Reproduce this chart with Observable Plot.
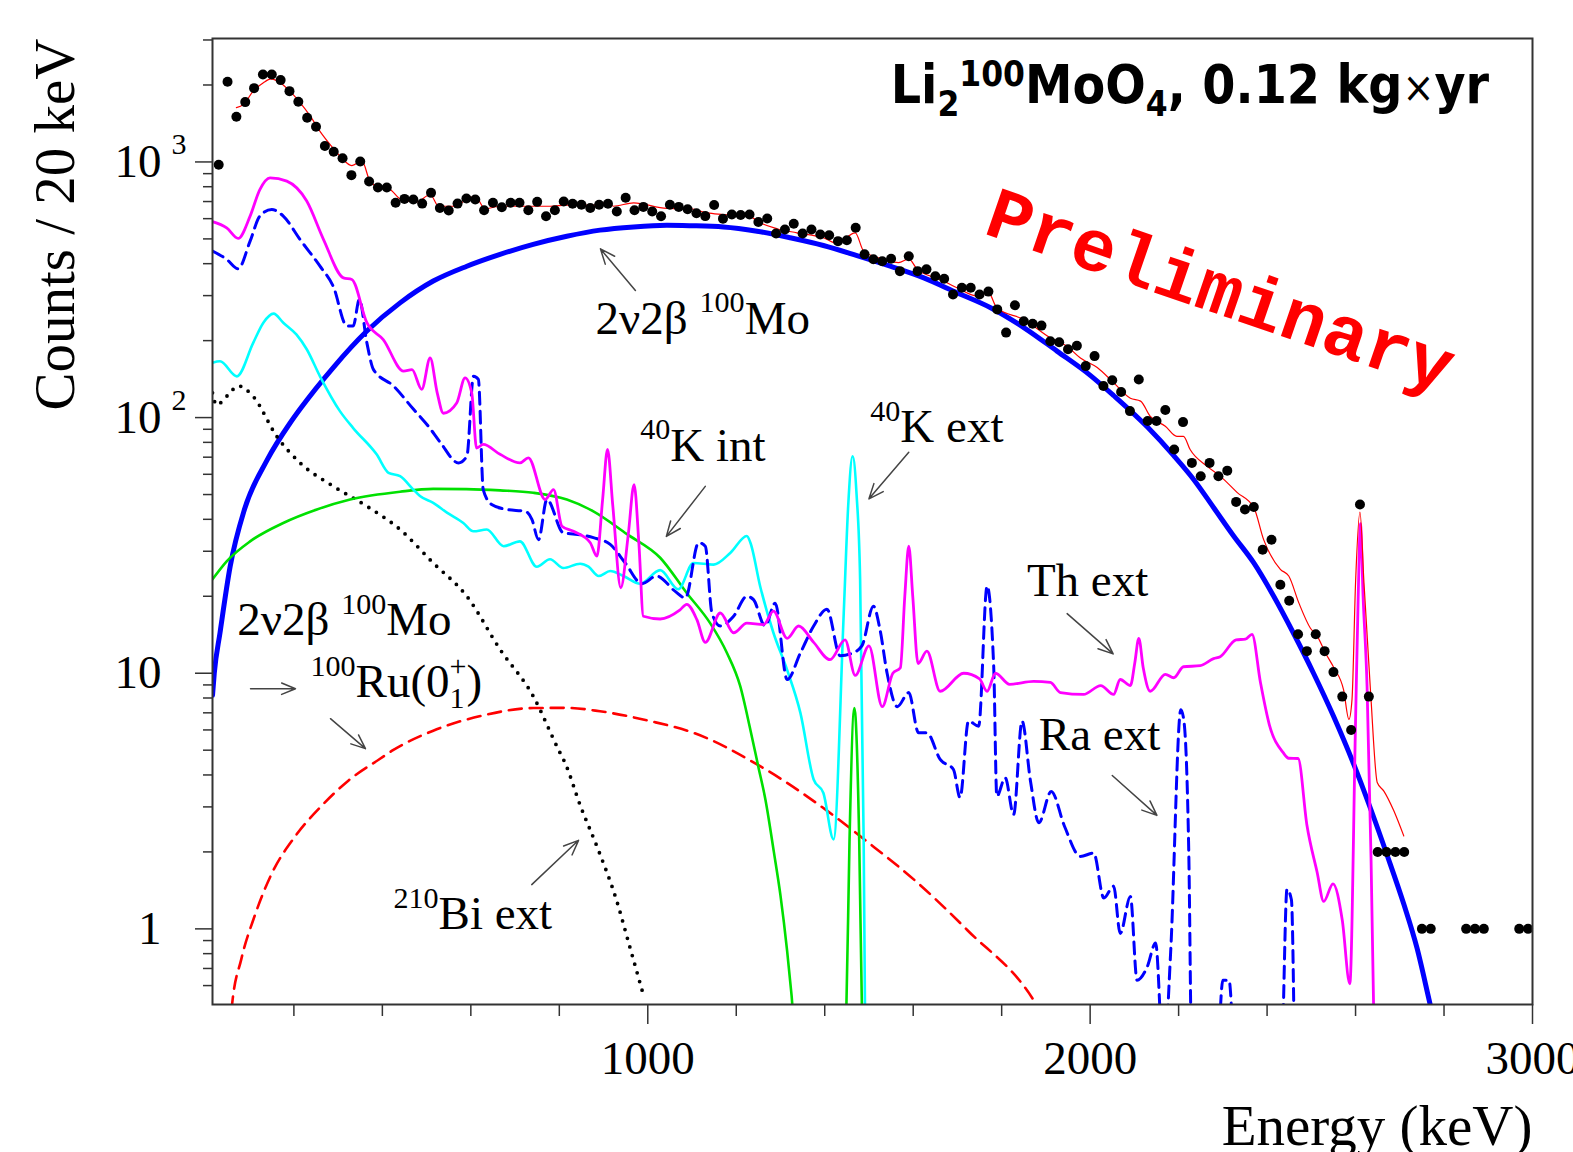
<!DOCTYPE html>
<html>
<head>
<meta charset="utf-8">
<script src="https://cdn.jsdelivr.net/npm/d3@7"></script>
<script src="https://cdn.jsdelivr.net/npm/@observablehq/plot@0.6"></script>
<style>
html, body { margin: 0; padding: 0; background: #fff; overflow: hidden; }
</style>
</head>
<body>
<script>
// ---------------- DATA (energy keV, counts / 20 keV) ----------------
const dataPoints = [
[30,975],[50,2060],[70,1502],[90,1714],[110,1944],[130,2198],[150,2198],[170,2090],[190,1892],[210,1720],
[230,1489],[250,1374],[270,1154],[290,1097],[310,1033],[330,888],[350,1004],[370,839],[390,795],[410,795],
[430,692],[450,717],[470,713],[490,687],[510,757],[530,660],[550,646],[570,687],[590,720],[610,713],
[630,647],[650,692],[670,665],[690,692],[710,692],[730,647],[750,698],[770,613],[790,647],[810,700],
[830,686],[850,680],[870,660],[890,680],[910,686],[930,640],[950,724],[970,647],[990,667],[1010,640],
[1030,613],[1050,680],[1070,667],[1090,653],[1110,630],[1130,614],[1150,678],[1170,600],[1190,623],[1210,620],
[1230,623],[1250,582],[1270,601],[1290,525],[1310,544],[1330,573],[1350,525],[1370,544],[1390,520],[1410,517],
[1430,490],[1450,494],[1470,553],[1490,435],[1510,416],[1530,409],[1550,418],[1570,374],[1590,428],[1610,374],
[1630,380],[1650,357],[1670,349],[1690,303],[1710,322],[1730,322],[1750,303],[1770,311],[1790,265],[1810,215],
[1830,275],[1850,238],[1870,233],[1890,229],[1910,199],[1930,197],[1950,185],[1970,191],[1990,159],[2010,174],
[2030,133],[2050,140],[2070,126],[2090,106],[2110,141],[2130,97],[2150,97],[2170,107],[2190,75],[2210,96],
[2230,66.5],[2250,59],[2270,66.5],[2290,59],[2310,62],[2330,46.8],[2350,43.7],[2370,44.7],[2390,30.4],[2410,33.3],
[2430,22.2],[2450,19.2],[2470,14.2],[2490,12.2],[2510,14.2],[2530,12.2],[2550,10.1],[2570,8.1],[2590,6.0],[2610,45.7],
[2630,8.1],[2650,2],[2670,2],[2690,2],[2710,2],[2750,1],[2770,1],[2850,1],[2870,1],[2890,1],[2970,1],[2990,1]
];

const totalFit = [
[70,1630],[86,1679],[108,1892],[131,2042],[148,2113],[169,2042],[191,1892],[214,1705],[237,1511],[259,1318],
[282,1169],[304,1054],[331,968],[354,1007],[372,841],[395,792],[417,780],[440,718],[478,697],[508,746],
[527,671],[561,671],[591,713],[610,735],[632,656],[666,671],[741,671],[779,671],[817,678],[892,678],
[909,703],[922,671],[968,692],[1043,658],[1096,656],[1134,632],[1171,623],[1232,610],[1254,578],[1292,548],
[1337,528],[1397,505],[1428,480],[1469,528],[1488,448],[1533,416],[1567,404],[1590,418],[1609,380],[1661,347],
[1699,322],[1744,299],[1770,308],[1789,269],[1850,242],[1910,205],[1948,190],[1978,171],[2016,157],[2053,137],
[2091,119],[2114,116],[2136,101],[2170,92.5],[2196,84.5],[2211,84.5],[2226,75],[2264,64.6],[2294,59],[2332,51],
[2370,44.5],[2392,33.4],[2430,25.5],[2449,24],[2472,18.8],[2498,15],[2513,14],[2532,12],[2551,10.5],[2573,8.6],
[2585,6.6],[2592,7.9],[2600,22.6],[2610,42.7],[2619,22.6],[2634,8.4],[2649,3.74],[2664,3.46],[2686,2.91],[2709,2.31]
];

const mo2nu = [
[16,8.2],[20,10],[33,14.4],[56,26.2],[88,43.6],[139,68],[191,95],[214,108],[289,157],[365,218],
[440,281],[515,342],[591,391],[666,435],[741,476],[817,512],[892,541],[968,557],[1043,565],[1096,563],
[1171,557],[1247,536],[1322,505],[1397,471],[1473,430],[1548,391],[1624,352],[1699,308],[1775,269],[1850,225],
[1925,182],[2001,146],[2053,122],[2129,92],[2189,71],[2234,57.3],[2279,44.5],[2324,34.5],[2370,27],[2415,20],
[2460,14.3],[2505,10.0],[2550,6.8],[2596,4.4],[2634,2.95],[2671,1.95],[2709,1.25],[2739,0.84],[2766,0.53],[2785,0.38]
];

const thExt = [
[16,584],[48,552],[74,502],[101,614],[123,780],[146,867],[184,841],[229,703],[267,497],[312,352],
[331,347],[365,235],[402,202],[448,152],[467,154],[489,129],[508,171],[524,125],[538,104],[568,114],
[587,143],[602,125],[613,76],[628,78.5],[666,71.8],[711,66.5],[730,69.6],[768,47.8],[787,52.3],[806,37.6],
[832,35.9],[870,32.4],[885,28.7],[898,48],[909,75],[921,45],[939,21.6],[956,35],[969,54.7],[980,32],
[990,16.7],[1028,16.3],[1073,17.7],[1088,18.6],[1111,16.2],[1130,13.2],[1164,17.2],[1194,14.4],[1224,15.7],[1262,15.5],
[1284,17.5],[1315,13.7],[1341,15.3],[1375,13.2],[1412,11.3],[1446,13.5],[1469,9.8],[1500,12.8],[1530,7.4],[1554,10],
[1571,10.5],[1581,20],[1590,31.4],[1599,20],[1611,10.9],[1631,12.2],[1661,8.5],[1714,10],[1750,9.5],[1767,8.5],
[1786,10],[1818,9.05],[1872,9.3],[1910,9.2],[1933,8.4],[1985,8.26],[2024,8.95],[2053,8.26],[2068,9.45],[2091,8.95],
[2101,11],[2110,13.7],[2120,10.5],[2136,8.5],[2170,9.9],[2189,9.6],[2211,10.6],[2249,10.7],[2279,11.4],[2294,11.6],
[2330,13.5],[2351,13.6],[2366,14.2],[2385,9.2],[2405,6.3],[2436,4.9],[2449,4.65],[2470,4.64],[2490,2.55],[2513,1.67],
[2528,1.28],[2549,1.5],[2570,1.08],[2587,0.61],[2600,6.5],[2606,20],[2611,38.5],[2617,20],[2626,8.9],[2635,1.89],
[2643,0.3]
];

const raExt = [
[16,448],[48,416],[74,382],[101,490],[123,614],[150,652],[176,614],[214,497],[259,391],[289,326],
[320,228],[334,228],[348,290],[365,196],[380,154],[425,133],[470,108],[504,92.5],[531,80],[572,66.5],
[591,70.6],[606,145],[617,141],[628,52.3],[647,45.7],[681,43.7],[723,43],[738,40],[753,33.3],[772,47.8],
[809,35.4],[836,35],[877,33.9],[915,31.9],[949,27],[987,22.4],[1020,24],[1062,20.9],[1085,19.7],[1115,32.4],
[1130,31.4],[1145,17.2],[1164,15.3],[1194,16.7],[1224,20],[1239,19.4],[1265,15.3],[1288,18.8],[1315,9.45],[1345,12],
[1375,15.3],[1405,17.8],[1435,11.7],[1458,11.9],[1484,12.8],[1510,18.3],[1525,14.8],[1541,10],[1564,7.4],[1590,8.4],
[1612,5.85],[1631,5.85],[1661,4.6],[1691,4.2],[1706,3.26],[1725,6.5],[1748,6.2],[1767,21.9],[1782,10.6],[1789,3.3],
[1808,3.9],[1827,2.8],[1846,6.5],[1865,3.8],[1884,2.6],[1912,3.45],[1942,2.52],[1978,1.92],[2008,1.98],[2031,1.32],
[2053,1.47],[2068,0.96],[2091,1.34],[2106,0.63],[2129,0.71],[2148,0.88],[2166,0.3],[2182,0.81],[2205,7.2],[2212,6.5],
[2223,1.98],[2230,0.3],[2286,0.3],[2300,0.63],[2314,0.63],[2328,0.3],[2432,0.3],[2445,1.43],[2455,1.3],[2462,0.3]
];

const k40Ext = [
[16,164],[33,166],[71,145],[108,196],[131,235],[154,255],[176,235],[206,211],[229,185],[259,145],
[304,106],[334,91],[387,71.8],[414,60.8],[440,59],[470,52.3],[485,49.3],[515,46.4],[546,42.5],[583,38.7],
[606,35.9],[636,36.5],[674,31.4],[711,32.8],[749,26.1],[779,27.9],[809,25.8],[847,26.8],[866,26.1],[889,24],
[915,25.1],[945,24],[983,22.4],[1028,25.3],[1069,21.3],[1103,27],[1149,26.6],[1187,29.6],[1224,34.4],[1232,32.4],
[1254,21.9],[1284,14.4],[1315,10.3],[1345,7.0],[1375,3.84],[1397,3.4],[1420,2.24],[1443,17.2],[1453,45],[1463,70.6],
[1472,50],[1480,23.3],[1488,2.24],[1492,0.3]
];

const k40Int = [
[16,23.3],[48,27.4],[101,32.8],[176,38.7],[252,43.7],[327,47.8],[440,51.3],[515,52.6],[590,52.5],[666,51.9],
[741,50.8],[817,47.8],[877,43],[953,35],[1028,28.3],[1088,20.6],[1141,15.7],[1179,12],[1209,8.9],[1232,6.0],
[1250,4.3],[1266,3.2],[1285,2.0],[1300,1.35],[1315,0.82],[1325,0.55],[1335,0.35],[1440,0.3],[1449,0.5],[1456,2.2],
[1467,7.3],[1478,2.2],[1484,0.5],[1490,0.3]
];

const bi210Ext = [
[16,125],[25,112],[50,122],[74,133],[108,121],[161,84.6],[214,66.5],[289,53.9],[365,45],[440,36.5],
[515,27],[591,20],[666,12.4],[741,8.13],[798,5.03],[813,4.46],[848,3.02],[888,2.04],[929,1.3],[959,0.855],
[989,0.56]
];

const mo2nuRu = [
[55,0.4],[60,0.5],[81,0.76],[111,1.12],[151,1.66],[202,2.29],[262,3.02],[323,3.80],[394,4.62],[425,5.01],
[515,5.96],[628,6.84],[741,7.31],[817,7.32],[892,7.1],[1005,6.5],[1103,5.85],[1254,4.33],[1405,2.9],[1495,2.2],
[1609,1.52],[1722,0.99],[1880,0.5],[1895,0.45]
];

// ---------------- TICKS ----------------
const xMajorTicks = [1000, 2000, 3000];
const xMinorTicks = [200, 400, 600, 800, 1200, 1400, 1600, 1800, 2200, 2400, 2600, 2800];
const yMajorTicks = [1, 10, 100, 1000];
const yMinorTicks = [0.6, 0.7, 0.8, 0.9, 2, 3, 4, 5, 6, 7, 8, 9, 20, 30, 40, 50, 60, 70, 80, 90,
                     200, 300, 400, 500, 600, 700, 800, 900, 2000, 3000];
const yTickBase = ["1", "10", "10", "10"];
const yTickExpValues = [100, 1000];
const yTickExp = ["2", "3"];
const xTickLabels = ["1000", "2000", "3000"];

// ---------------- ANNOTATIONS (data coordinates) ----------------
const annotations = [
  {x: 882,  y: 213,  label: "2ν2β ^{100}Mo"},
  {x: 983,  y: 67.9, label: "^{40}K int"},
  {x: 1503, y: 80.1, label: "^{40}K ext"},
  {x: 1857, y: 19.96, label: "Th ext"},
  {x: 1884, y: 5.02, label: "Ra ext"},
  {x: 72,   y: 14.06, label: "2ν2β ^{100}Mo"},
  {x: 237.5, y: 8.06, label: "^{100}Ru(0_{1}!{+})"},
  {x: 425,  y: 1.0,  label: "^{210}Bi ext"}
];
const arrows = [
  {x1: 972, y1: 314, x2: 893, y2: 457},
  {x1: 1130, y1: 53.8, x2: 1042, y2: 34.3},
  {x1: 1590, y1: 73.2, x2: 1500, y2: 48.1},
  {x1: 1948, y1: 17.1, x2: 2052, y2: 11.9},
  {x1: 2050, y1: 3.98, x2: 2151, y2: 2.78},
  {x1: 102, y1: 8.70, x2: 203.6, y2: 8.70},
  {x1: 282.7, y1: 6.64, x2: 361.8, y2: 5.07},
  {x1: 737.7, y1: 1.49, x2: 843.5, y2: 2.22}
];
const prelim = [{x: 2295, y: 315, label: "Preliminary"}];
const titleText = ["Li_{2}^{100}MoO_{4}, 0.12 kg~{×}yr"];

// ---------------- PLOT ----------------
const serif = "'Liberation Serif', 'Times New Roman', serif";
const fx = d => d[0], fy = d => d[1];
const axisStyle = {stroke: "#333", strokeWidth: 1.5, tickFormat: () => "", label: null};

const plot = Plot.plot({
  width: 1573, height: 1152,
  marginLeft: 212, marginRight: 41, marginTop: 38, marginBottom: 148,
  style: {background: "white", fontFamily: serif},
  x: {type: "linear", domain: [16, 3000], axis: null},
  y: {type: "log", domain: [0.506, 3040], axis: null},
  marks: [
    Plot.axisX({...axisStyle, ticks: xMinorTicks, tickSize: 12}),
    Plot.axisX({...axisStyle, ticks: xMajorTicks, tickSize: 20}),
    Plot.axisY({...axisStyle, ticks: yMinorTicks, tickSize: 9}),
    Plot.axisY({...axisStyle, ticks: yMajorTicks, tickSize: 17}),

    Plot.line(mo2nu, {x: fx, y: fy, stroke: "#0000ff", strokeWidth: 5, curve: "monotone-x", clip: true}),
    Plot.line(mo2nuRu, {x: fx, y: fy, stroke: "#ff0000", strokeWidth: 2.6, strokeDasharray: "13,8", curve: "monotone-x", clip: true}),
    Plot.line(bi210Ext, {x: fx, y: fy, stroke: "#000", strokeWidth: 3.8, strokeDasharray: "0,9", strokeLinecap: "round", curve: "monotone-x", clip: true}),
    Plot.line(k40Int, {x: fx, y: fy, stroke: "#00e000", strokeWidth: 2.6, curve: "monotone-x", clip: true}),
    Plot.line(k40Ext, {x: fx, y: fy, stroke: "#00ffff", strokeWidth: 2.6, curve: "monotone-x", clip: true}),
    Plot.line(raExt, {x: fx, y: fy, stroke: "#0000ff", strokeWidth: 3, strokeDasharray: "12,7", curve: "monotone-x", clip: true}),
    Plot.line(thExt, {x: fx, y: fy, stroke: "#ff00ff", strokeWidth: 2.8, curve: "monotone-x", clip: true}),
    Plot.line(totalFit, {x: fx, y: fy, stroke: "#ff0000", strokeWidth: 1.2, curve: "monotone-x", clip: true}),
    Plot.dot(dataPoints, {x: fx, y: fy, r: 5, fill: "#000", stroke: null}),

    Plot.arrow(arrows, {x1: "x1", y1: "y1", x2: "x2", y2: "y2", stroke: "#444", strokeWidth: 1.5, headLength: 16, headAngle: 45}),
    Plot.text(annotations, {x: "x", y: "y", text: "label", textAnchor: "start", lineAnchor: "bottom", fontSize: 47, fill: "#000", fontFamily: serif}),

    Plot.text(prelim, {x: "x", y: "y", text: "label", rotate: 19, fontSize: 74, fontWeight: "bold", fill: "#ff0000", fontFamily: "'Liberation Mono', 'Courier New', monospace", textAnchor: "middle", lineAnchor: "middle"}),
    Plot.text(titleText, {frameAnchor: "top-right", textAnchor: "end", lineAnchor: "bottom", dx: -43.5, dy: 64.7, fontSize: 53, fontWeight: "bold", fill: "#000", fontFamily: "'DejaVu Sans Condensed', 'DejaVu Sans', sans-serif"}),

    Plot.text(yMajorTicks, {y: d => d, text: (d, i) => yTickBase[i], frameAnchor: "left", textAnchor: "end", dx: -51, lineAnchor: "middle", fontSize: 47, fill: "#000"}),
    Plot.text(yTickExpValues, {y: d => d, text: (d, i) => yTickExp[i], frameAnchor: "left", textAnchor: "start", dx: -41, dy: -8, lineAnchor: "bottom", fontSize: 30, fill: "#000"}),
    Plot.text(xMajorTicks, {x: d => d, text: (d, i) => xTickLabels[i], frameAnchor: "bottom", dy: 36, lineAnchor: "top", fontSize: 47, fill: "#000"}),

    Plot.text(["Counts / 20 keV"], {frameAnchor: "top-left", rotate: -90, textAnchor: "end", lineAnchor: "bottom", dx: -139, fontSize: 57, fill: "#000"}),
    Plot.text(["Energy (keV)"], {frameAnchor: "bottom-right", textAnchor: "end", lineAnchor: "bottom", dy: 140, fontSize: 57, fill: "#000"}),

    Plot.frame({stroke: "#333", strokeWidth: 2})
  ]
});

document.body.appendChild(plot);

// ---------- rich text: ^{sup}, _{sub}, !{sup stacked over previous sub}, ~{light} ----------
function richify(svg) {
  svg.querySelectorAll("text").forEach(t => {
    const s = t.textContent;
    if (!/[\^_~!]\{/.test(s)) return;
    const cs = getComputedStyle(t);
    const fs = parseFloat(cs.fontSize);
    const bold = (+cs.fontWeight || 400) >= 600;
    const P = bold
      ? {supSize: 0.66, supRise: 0.33, subSize: 0.66, subDrop: 0.24}
      : {supSize: 0.64, supRise: 0.45, subSize: 0.64, subDrop: 0.22};
    const tokens = [];
    const re = /([\^_~!])\{([^}]*)\}|([^\^_~!]+)/g;
    let m;
    while ((m = re.exec(s))) tokens.push(m[3] !== undefined ? {k: "", v: m[3]} : {k: m[1], v: m[2]});
    while (t.firstChild) t.removeChild(t.firstChild);
    let cur = 0, prev = null;
    for (const tok of tokens) {
      const ts = document.createElementNS("http://www.w3.org/2000/svg", "tspan");
      let target = 0;
      if (tok.k === "^" || tok.k === "!") { target = -P.supRise * fs; ts.setAttribute("font-size", P.supSize * fs); }
      else if (tok.k === "_") { target = P.subDrop * fs; ts.setAttribute("font-size", P.subSize * fs); }
      else if (tok.k === "~") { target = -0.02 * fs; ts.setAttribute("font-size", 0.8 * fs); ts.setAttribute("font-weight", "normal"); }
      ts.setAttribute("dy", target - cur);
      cur = target;
      ts.textContent = tok.v;
      t.appendChild(ts);
      if (tok.k === "!" && prev && prev.k === "_") {
        ts.setAttribute("dx", -prev.node.getComputedTextLength());
      }
      prev = {k: tok.k, node: ts};
    }
  });
}
richify(plot);
</script>
</body>
</html>
